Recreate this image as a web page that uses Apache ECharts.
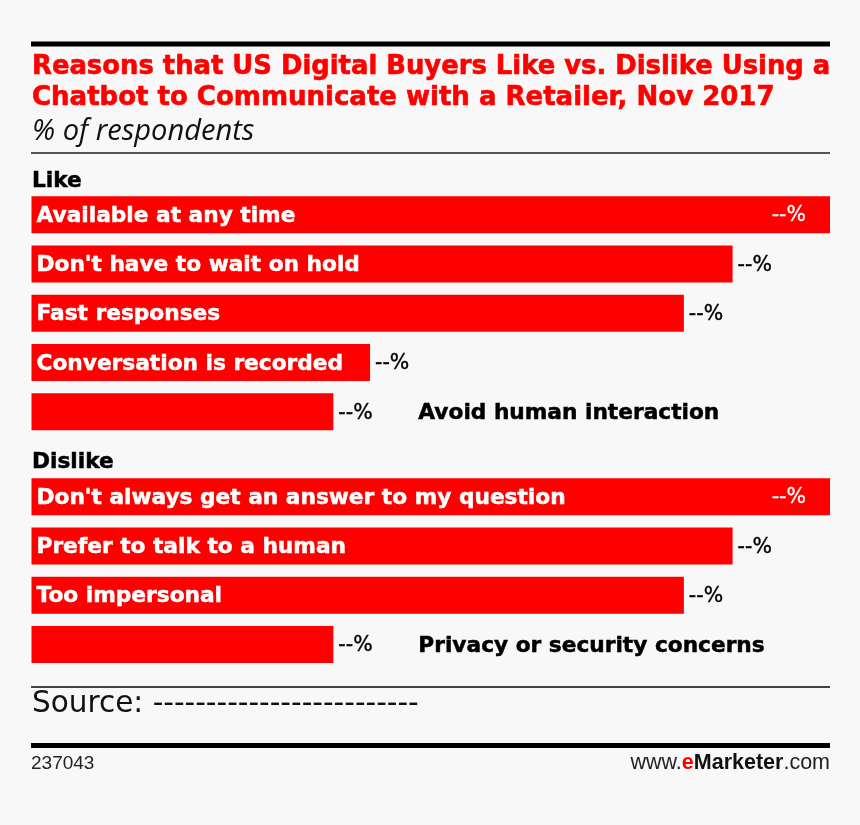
<!DOCTYPE html>
<html>
<head>
<meta charset="utf-8">
<style>html,body{margin:0;padding:0;background:#f8f8f8}#c{width:860px;height:825px}</style>
<script src="https://cdn.jsdelivr.net/npm/echarts@6/dist/echarts.min.js"></script>
</head>
<body>
<div id="c"></div>
<script>
const likeCategories = ['Available at any time', "Don't have to wait on hold", 'Fast responses', 'Conversation is recorded', 'Avoid human interaction'];
const likeValues = [100, 87.8, 81.7, 42.4, 37.8];
const dislikeCategories = ["Don't always get an answer to my question", 'Prefer to talk to a human', 'Too impersonal', 'Privacy or security concerns'];
const dislikeValues = [100, 87.8, 81.7, 37.8];
const valueText = '--%';
const outsideNames = ['Avoid human interaction', 'Privacy or security concerns'];

const RED = '#ff0000', F = '"DejaVu Sans", sans-serif';
const nameStyle = {fontFamily: F, fontWeight: 'bold', fontSize: 21.7, offset: [0, 1.5]};

function barSeries(idx, cats, vals) {
  return [
    {
      type: 'bar', xAxisIndex: idx, yAxisIndex: idx, barWidth: 37, barGap: '-100%', silent: true,
      itemStyle: {color: RED},
      data: vals.map(v => ({
        value: v,
        label: v >= 100
          ? {show: true, position: 'insideRight', distance: 24, offset: [0, 1.5], color: '#fff', formatter: valueText, fontFamily: F, fontSize: 20.5, fontWeight: 'normal', textBorderColor: '#fff', textBorderWidth: 0.3}
          : {show: true, position: 'right', distance: 5, offset: [0, 1.5], color: '#000', formatter: valueText, fontFamily: F, fontSize: 20.5, fontWeight: 'normal', textBorderColor: '#000', textBorderWidth: 0.4}
      }))
    },
    {
      type: 'bar', xAxisIndex: idx, yAxisIndex: idx, barWidth: 37, barGap: '-100%', silent: true,
      itemStyle: {color: 'transparent'},
      data: vals.map((v, i) => ({
        value: v,
        label: outsideNames.includes(cats[i])
          ? {show: true, position: 'right', distance: 85, color: '#000', formatter: cats[i], textBorderColor: '#000', textBorderWidth: 0.5, ...nameStyle}
          : {show: true, position: 'insideLeft', distance: 5, color: '#fff', formatter: cats[i], textBorderColor: '#fff', textBorderWidth: 0.5, ...nameStyle}
      }))
    }
  ];
}
function rule(y, w, color) {
  return {type: 'line', silent: true, shape: {x1: 31, y1: y, x2: 830, y2: y}, style: {stroke: color, lineWidth: w}};
}
function txt(left, top, text, style) {
  return {left, top, text, padding: 0, textStyle: {fontFamily: F, fontWeight: 'normal', ...style}};
}
const chart = echarts.init(document.getElementById('c'), null, {renderer: 'canvas'});
chart.setOption({
  animation: false,
  backgroundColor: '#f8f8f8',
  title: [
    txt(32, 54, 'Reasons that US Digital Buyers Like vs. Dislike Using a', {color: RED, fontWeight: 'bold', fontSize: 25.85, textBorderColor: RED, textBorderWidth: 0.6}),
    txt(32, 85, 'Chatbot to Communicate with a Retailer, Nov 2017', {color: RED, fontWeight: 'bold', fontSize: 26, textBorderColor: RED, textBorderWidth: 0.6}),
    txt(32, 117, '% of respondents', {color: '#111', fontFamily: '"Open Sans", sans-serif', fontStyle: 'italic', fontSize: 29.1}),
    txt(32, 170, 'Like', {color: '#000', fontWeight: 'bold', fontSize: 21.7, textBorderColor: '#000', textBorderWidth: 0.5}),
    txt(32, 451, 'Dislike', {color: '#000', fontWeight: 'bold', fontSize: 21.7, textBorderColor: '#000', textBorderWidth: 0.5}),
    txt(32, 689, 'Source: -------------------------', {color: '#111', fontSize: 29.5}),
    txt(31, 754, '237043', {color: '#222', fontFamily: '"Liberation Sans", sans-serif', fontSize: 19}),
    {right: 30, top: 752, padding: 0, text: '{a|www.}{b|e}{c|Marketer}{a|.com}', textStyle: {rich: {
      a: {fontFamily: '"Liberation Sans", sans-serif', fontWeight: 'normal', fontSize: 21.5, color: '#222'},
      b: {fontFamily: '"Liberation Sans", sans-serif', fontSize: 21.5, fontWeight: 'bold', color: RED},
      c: {fontFamily: '"Liberation Sans", sans-serif', fontSize: 21.5, fontWeight: 'bold', color: '#111'}
    }}}
  ],
  grid: [
    {left: 31.5, width: 798.5, top: 190, height: 246.5, containLabel: false},
    {left: 31.5, width: 798.5, top: 472, height: 197.2, containLabel: false}
  ],
  xAxis: [0, 1].map(i => ({type: 'value', gridIndex: i, min: 0, max: 100, show: false})),
  yAxis: [likeCategories, dislikeCategories].map((d, i) => ({type: 'category', gridIndex: i, inverse: true, data: d, show: false})),
  series: [...barSeries(0, likeCategories, likeValues), ...barSeries(1, dislikeCategories, dislikeValues)],
  graphic: [rule(44, 5, '#000'), rule(153, 2, '#555'), rule(687, 2, '#444'), rule(745.5, 5, '#000')]
});
</script>
</body>
</html>
